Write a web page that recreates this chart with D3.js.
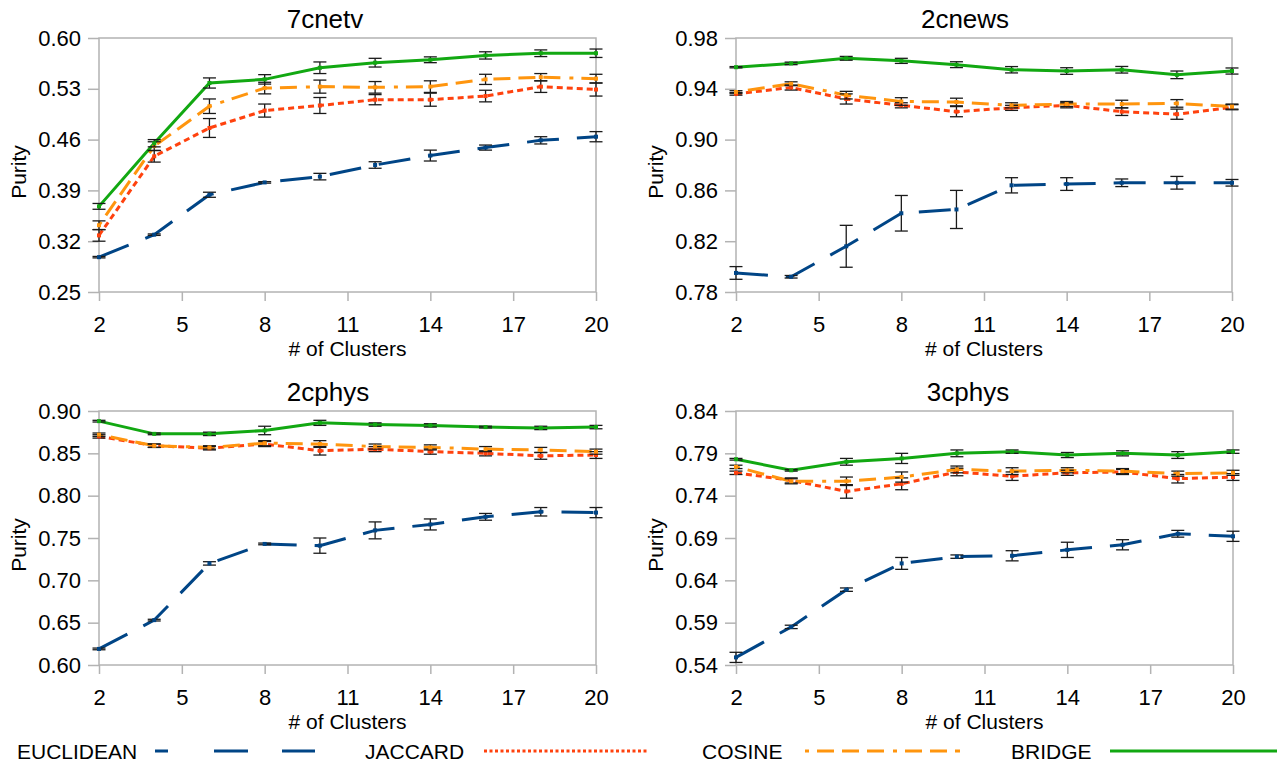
<!DOCTYPE html>
<html>
<head>
<meta charset="utf-8">
<script src="https://cdn.jsdelivr.net/npm/d3@7"></script>
<style>
  body { margin: 0; background: #fff; }
  svg text { font-family: "Liberation Sans", Arial, sans-serif; fill: #000; }
</style>
</head>
<body>
<svg id="chart" width="1278" height="765"></svg>
<script>
// x values and ticks shared by all panels
var xValues = [2, 4, 6, 8, 10, 12, 14, 16, 18, 20];
var xTicks = [2, 5, 8, 11, 14, 17, 20];
var seriesNames = ["EUCLIDEAN", "JACCARD", "COSINE", "BRIDGE"];
var panelTitles = ["7cnetv", "2cnews", "2cphys", "3cphys"];

// 7cnetv
var netvTicks = [0.25, 0.32, 0.39, 0.46, 0.53, 0.60];
var netvEuclidean = [0.298, 0.329, 0.384, 0.401, 0.409, 0.425, 0.438, 0.449, 0.459, 0.464];
var netvEuclideanErr = [0.001, 0.001, 0.0035, 0.001, 0.0045, 0.0045, 0.0075, 0.0035, 0.005, 0.007];
var netvJaccard = [0.328, 0.437, 0.476, 0.500, 0.507, 0.515, 0.515, 0.520, 0.533, 0.529];
var netvJaccardErr = [0.008, 0.008, 0.013, 0.009, 0.011, 0.007, 0.009, 0.008, 0.008, 0.009];
var netvCosine = [0.342, 0.451, 0.506, 0.531, 0.533, 0.532, 0.533, 0.543, 0.546, 0.544];
var netvCosineErr = [0.006, 0.006, 0.010, 0.008, 0.009, 0.008, 0.008, 0.007, 0.005, 0.006];
var netvBridge = [0.368, 0.455, 0.538, 0.543, 0.559, 0.566, 0.570, 0.576, 0.579, 0.579];
var netvBridgeErr = [0.004, 0.005, 0.007, 0.0065, 0.008, 0.006, 0.004, 0.005, 0.0046, 0.0058];

// 2cnews
var newsTicks = [0.78, 0.82, 0.86, 0.90, 0.94, 0.98];
var newsEuclidean = [0.795, 0.792, 0.816, 0.842, 0.845, 0.864, 0.865, 0.866, 0.866, 0.866];
var newsEuclideanErr = [0.005, 0.001, 0.0165, 0.014, 0.015, 0.006, 0.005, 0.003, 0.005, 0.0026];
var newsJaccard = [0.936, 0.941, 0.932, 0.927, 0.922, 0.925, 0.927, 0.922, 0.920, 0.9255];
var newsJaccardErr = [0.001, 0.002, 0.004, 0.002, 0.004, 0.002, 0.002, 0.003, 0.004, 0.002];
var newsCosine = [0.9375, 0.944, 0.935, 0.930, 0.9296, 0.927, 0.928, 0.928, 0.9285, 0.926];
var newsCosineErr = [0.001, 0.0015, 0.003, 0.003, 0.003, 0.002, 0.002, 0.003, 0.003, 0.002];
var newsBridge = [0.957, 0.960, 0.964, 0.962, 0.959, 0.955, 0.954, 0.955, 0.951, 0.954];
var newsBridgeErr = [0.0005, 0.001, 0.0015, 0.002, 0.0023, 0.0025, 0.0026, 0.0026, 0.003, 0.0024];

// 2cphys
var phys2Ticks = [0.60, 0.65, 0.70, 0.75, 0.80, 0.85, 0.90];
var phys2Euclidean = [0.619, 0.653, 0.720, 0.743, 0.741, 0.759, 0.766, 0.775, 0.781, 0.780];
var phys2EuclideanErr = [0.001, 0.001, 0.002, 0.001, 0.009, 0.010, 0.0065, 0.004, 0.005, 0.006];
var phys2Jaccard = [0.870, 0.859, 0.856, 0.861, 0.853, 0.855, 0.852, 0.850, 0.847, 0.848];
var phys2JaccardErr = [0.002, 0.002, 0.002, 0.003, 0.005, 0.003, 0.003, 0.003, 0.004, 0.004];
var phys2Cosine = [0.872, 0.859, 0.857, 0.862, 0.861, 0.858, 0.857, 0.855, 0.854, 0.852];
var phys2CosineErr = [0.002, 0.002, 0.002, 0.003, 0.004, 0.003, 0.003, 0.003, 0.003, 0.003];
var phys2Bridge = [0.888, 0.873, 0.873, 0.877, 0.886, 0.884, 0.883, 0.881, 0.880, 0.881];
var phys2BridgeErr = [0.001, 0.001, 0.002, 0.005, 0.003, 0.002, 0.002, 0.001, 0.002, 0.002];

// 3cphys
var phys3Ticks = [0.54, 0.59, 0.64, 0.69, 0.74, 0.79, 0.84];
var phys3Euclidean = [0.549, 0.585, 0.629, 0.660, 0.668, 0.669, 0.676, 0.682, 0.695, 0.692];
var phys3EuclideanErr = [0.006, 0.002, 0.002, 0.007, 0.002, 0.006, 0.009, 0.006, 0.004, 0.006];
var phys3Jaccard = [0.767, 0.758, 0.745, 0.754, 0.768, 0.763, 0.767, 0.768, 0.760, 0.762];
var phys3JaccardErr = [0.002, 0.003, 0.008, 0.007, 0.0045, 0.005, 0.003, 0.003, 0.005, 0.004];
var phys3Cosine = [0.774, 0.757, 0.757, 0.762, 0.771, 0.769, 0.770, 0.769, 0.766, 0.767];
var phys3CosineErr = [0.002, 0.003, 0.005, 0.006, 0.004, 0.004, 0.003, 0.003, 0.003, 0.003];
var phys3Bridge = [0.783, 0.770, 0.780, 0.784, 0.790, 0.792, 0.788, 0.790, 0.788, 0.792];
var phys3BridgeErr = [0.001, 0.001, 0.004, 0.006, 0.004, 0.002, 0.003, 0.003, 0.004, 0.002];

// series styles
var colors = ["#004586", "#ff420e", "#ff950e", "#12a812"];
var chartDash = ["32,18", "6,4", "4,8,17,8,17,8,17,9", null];
var legendDash = ["13,46,34,34,33", "3,2.5", "4,8,17,8,17,8,17,9", null];

var panels = [
  { title: panelTitles[0], ticks: netvTicks, values: [netvEuclidean, netvJaccard, netvCosine, netvBridge], errs: [netvEuclideanErr, netvJaccardErr, netvCosineErr, netvBridgeErr] },
  { title: panelTitles[1], ticks: newsTicks, values: [newsEuclidean, newsJaccard, newsCosine, newsBridge], errs: [newsEuclideanErr, newsJaccardErr, newsCosineErr, newsBridgeErr] },
  { title: panelTitles[2], ticks: phys2Ticks, values: [phys2Euclidean, phys2Jaccard, phys2Cosine, phys2Bridge], errs: [phys2EuclideanErr, phys2JaccardErr, phys2CosineErr, phys2BridgeErr] },
  { title: panelTitles[3], ticks: phys3Ticks, values: [phys3Euclidean, phys3Jaccard, phys3Cosine, phys3Bridge], errs: [phys3EuclideanErr, phys3JaccardErr, phys3CosineErr, phys3BridgeErr] }
];

// plot boxes: left, right, top, bottom, title center
var boxes = [
  { x0: 99, x1: 596, y0: 38, y1: 292, tx: 325 },
  { x0: 736, x1: 1232, y0: 38, y1: 292, tx: 965 },
  { x0: 99, x1: 596, y0: 411, y1: 665, tx: 328 },
  { x0: 736, x1: 1233, y0: 411, y1: 665, tx: 968 }
];

var svg = d3.select("#chart");
var gridColor = "#b3b3b3";

panels.forEach(function(p, i) {
  var b = boxes[i];
  var x = d3.scaleLinear().domain([2, 20]).range([b.x0, b.x1]);
  var y = d3.scaleLinear().domain([p.ticks[0], p.ticks[p.ticks.length - 1]]).range([b.y1, b.y0]);
  var g = svg.append("g");

  // title
  g.append("text").attr("x", b.tx).attr("y", b.y0 - 10)
    .attr("text-anchor", "middle").style("font-size", "26px").text(p.title);

  // y axis
  var yAxis = d3.axisLeft(y).tickValues(p.ticks).tickSize(11).tickPadding(7).tickFormat(d3.format(".2f"));
  var ya = g.append("g").attr("transform", "translate(" + b.x0 + ",0)").call(yAxis);
  ya.select(".domain").remove();
  ya.selectAll("line").attr("stroke", gridColor).attr("stroke-width", 1.5);
  ya.selectAll("text").style("font-size", "22px").attr("font-family", null);

  // x axis
  var xAxis = d3.axisBottom(x).tickValues(xTicks).tickSize(9).tickPadding(15).tickFormat(d3.format("d"));
  var xa = g.append("g").attr("transform", "translate(0," + b.y1 + ")").call(xAxis);
  xa.select(".domain").remove();
  xa.selectAll("line").attr("stroke", gridColor).attr("stroke-width", 1.5);
  xa.selectAll("text").style("font-size", "22px").attr("font-family", null);

  // frame
  g.append("rect").attr("x", b.x0).attr("y", b.y0)
    .attr("width", b.x1 - b.x0).attr("height", b.y1 - b.y0)
    .attr("fill", "none").attr("stroke", gridColor).attr("stroke-width", 1.5);

  // axis labels
  g.append("text").attr("x", (b.x0 + b.x1) / 2).attr("y", b.y1 + 64)
    .attr("text-anchor", "middle").style("font-size", "21px").text("# of Clusters");
  g.append("text")
    .attr("transform", "translate(" + (b.x0 - 73) + "," + ((b.y0 + b.y1) / 2 + 7) + ") rotate(-90)")
    .attr("text-anchor", "middle").style("font-size", "21px").text("Purity");

  var line = d3.line().x(function(d) { return x(d[0]); }).y(function(d) { return y(d[1]); });

  // series lines
  p.values.forEach(function(vals, s) {
    var pts = xValues.map(function(xv, k) { return [xv, vals[k]]; });
    g.append("path").datum(pts)
      .attr("d", line)
      .attr("fill", "none")
      .attr("stroke", colors[s])
      .attr("stroke-width", 3)
      .attr("stroke-dasharray", chartDash[s]);
  });

  // error bars and markers
  p.values.forEach(function(vals, s) {
    var errs = p.errs[s];
    var eg = g.append("g").attr("stroke", "#1a1a1a").attr("stroke-width", 1.3);
    xValues.forEach(function(xv, k) {
      var cx = x(xv), top = y(vals[k] + errs[k]), bot = y(vals[k] - errs[k]);
      eg.append("line").attr("x1", cx).attr("x2", cx).attr("y1", top).attr("y2", bot);
      eg.append("line").attr("x1", cx - 6.5).attr("x2", cx + 6.5).attr("y1", top).attr("y2", top);
      eg.append("line").attr("x1", cx - 6.5).attr("x2", cx + 6.5).attr("y1", bot).attr("y2", bot);
    });
    g.selectAll(null).data(xValues).enter().append("rect")
      .attr("x", function(d) { return x(d) - 2; })
      .attr("y", function(d, k) { return y(vals[k]) - 2; })
      .attr("width", 4).attr("height", 4)
      .attr("fill", colors[s]);
  });
});

// legend
var legendText = [17, 365, 702, 1011];
var legendLine = [[155, 315], [484, 649], [805, 960], [1110, 1277]];
var lg = svg.append("g");
seriesNames.forEach(function(name, s) {
  lg.append("text").attr("x", legendText[s]).attr("y", 759)
    .style("font-size", "21px").text(name);
  lg.append("line")
    .attr("x1", legendLine[s][0]).attr("x2", legendLine[s][1])
    .attr("y1", 751).attr("y2", 751)
    .attr("stroke", colors[s]).attr("stroke-width", 3)
    .attr("stroke-dasharray", legendDash[s]);
});
</script>
</body>
</html>
